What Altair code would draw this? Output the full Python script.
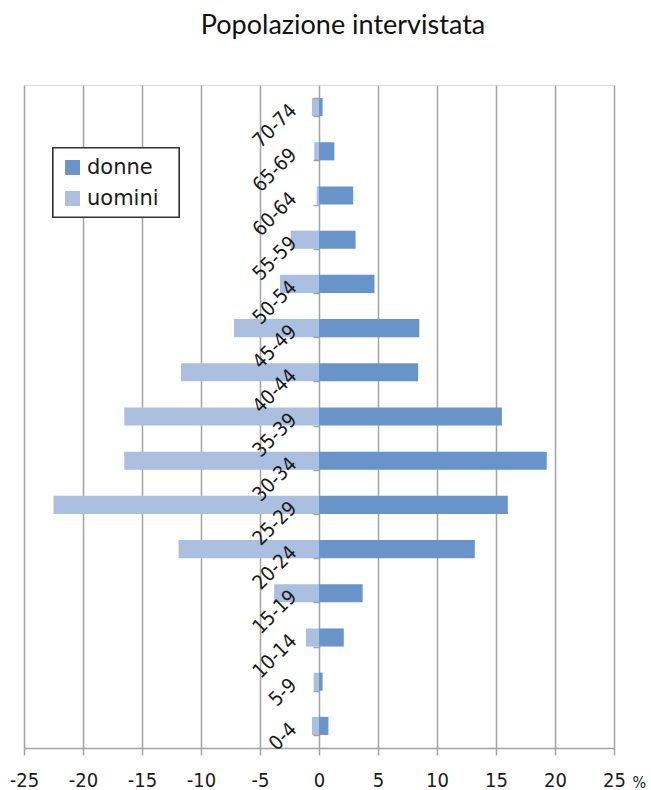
import altair as alt
import pandas as pd

# Age classes, bottom to top
ages = ["0-4", "5-9", "10-14", "15-19", "20-24", "25-29", "30-34", "35-39",
        "40-44", "45-49", "50-54", "55-59", "60-64", "65-69", "70-74"]
# Percent of respondents per age class
donne = [0.8, 0.3, 2.1, 3.7, 13.2, 16.0, 19.3, 15.5, 8.4, 8.5, 4.7, 3.1, 2.9, 1.3, 0.3]
uomini = [0.6, 0.45, 1.1, 3.8, 11.9, 22.5, 16.5, 16.5, 11.7, 7.2, 3.3, 2.4, 0.2, 0.4, 0.6]
x_ticks = [-25, -20, -15, -10, -5, 0, 5, 10, 15, 20, 25]

rows = []
for a, d, u in zip(ages, donne, uomini):
    rows.append({"eta": a, "sesso": "donne", "valore": d})
    rows.append({"eta": a, "sesso": "uomini", "valore": -u})
df = pd.DataFrame(rows)

FONT = "DejaVu Sans Condensed"
GRID = "#a3a3a3"
INK = "#1a1a1a"

base = alt.Chart(df)

bars = base.mark_bar().encode(
    x=alt.X(
        "valore:Q",
        stack=None,
        scale=alt.Scale(domain=[-25, 25], nice=False, zero=False),
        axis=alt.Axis(
            values=x_ticks,
            labelExpr="toString(datum.value)",
            grid=True,
            gridColor=GRID,
            gridWidth=1.5,
            domainColor=GRID,
            domainWidth=1.5,
            tickColor=GRID,
            tickWidth=1.5,
            tickSize=7,
            labelFont=FONT,
            labelFontSize=20,
            labelColor=INK,
            labelPadding=15,
            labelFlush=False,
            title="%",
            titleFont=FONT,
            titleFontSize=16,
            titleFontWeight="normal",
            titleColor=INK,
            titleX=608,
            titleY=34,
            titleAlign="left",
            titleBaseline="middle",
        ),
    ),
    y=alt.Y(
        "eta:N",
        sort=list(reversed(ages)),
        scale=alt.Scale(paddingInner=0.59, paddingOuter=0.295),
        axis=alt.Axis(
            title=None,
            offset=-295,
            zindex=1,
            domain=False,
            grid=False,
            tickBand="extent",
            tickColor=GRID,
            tickWidth=1.5,
            tickSize=6,
            labelAngle=-45,
            labelAlign="right",
            labelBaseline="middle",
            labelPadding=20,
            labelOffset=0,
            labelFont=FONT,
            labelFontSize=20,
            labelColor=INK,
        ),
    ),
    color=alt.Color(
        "sesso:N",
        scale=alt.Scale(domain=["donne", "uomini"], range=["#6894c9", "#abbfe0"]),
        legend=alt.Legend(
            title=None,
            orient="none",
            legendX=29,
            legendY=63,
            direction="vertical",
            symbolType="square",
            symbolSize=225,
            symbolStrokeWidth=0,
            labelFont="DejaVu Sans",
            labelFontSize=21,
            labelColor=INK,
            labelOffset=4,
            rowPadding=9,
            padding=9,
        ),
    ),
)

# White framed box behind the legend entries
legend_frame = base.mark_rect(
    fill="white", stroke="#333333", strokeWidth=1.2
).encode(
    x=alt.value(29), x2=alt.value(155), y=alt.value(63), y2=alt.value(132)
)

chart = alt.layer(bars, legend_frame).properties(
    width=590,
    height=663,
    title=alt.TitleParams(
        "Popolazione intervistata",
        font="Lato",
        fontSize=27,
        fontWeight="normal",
        color="#111111",
        anchor="middle",
        dx=24,
        offset=38,
    ),
    autosize=alt.AutoSizeParams(type="none"),
    padding={"left": 24, "top": 85, "right": 37, "bottom": 42},
).configure_view(
    stroke="#d4d4d4",
    strokeWidth=1.5,
).configure(background="white")

chart.save("out.html", embed_options={"renderer": "svg", "actions": False})
